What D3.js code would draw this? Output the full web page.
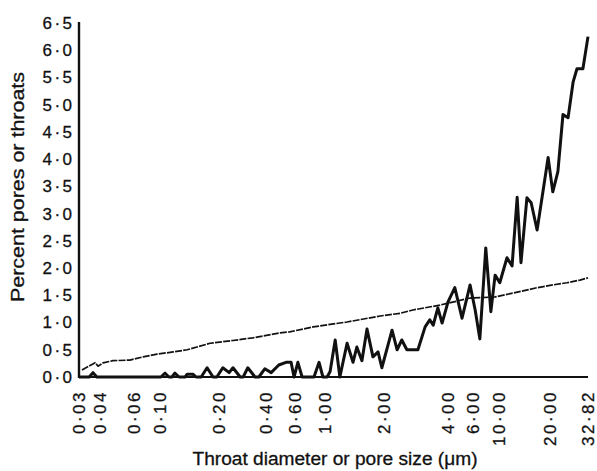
<!DOCTYPE html>
<html>
<head>
<meta charset="utf-8">
<script src="https://cdn.jsdelivr.net/npm/d3@7"></script>
<style>
body { margin: 0; background: #fff; }
text { font-family: "Liberation Sans", Arial, sans-serif; fill: #111; stroke: #111; stroke-width: 0.3; }
</style>
</head>
<body>
<svg></svg>
<script>
// size classes are numbered 0..120 along the x axis
var tickClass = [0, 5, 13, 19, 33, 44, 51, 58, 72, 87, 93, 99, 111, 120]
var tickLabels = ["0·03", "0·04", "0·06", "0·10", "0·20", "0·40", "0·60", "1·00", "2·00", "4·00", "6·00", "10·00", "20·00", "32·82"]
var yTicks = [0, 0.5, 1, 1.5, 2, 2.5, 3, 3.5, 4, 4.5, 5, 5.5, 6, 6.5]

// throats (heavy line)
var throatClass = [0, 2.4, 3.3, 4.2, 19.3, 20.3, 21.2, 21.9, 22.6, 23.6, 25, 25.5, 26.9, 27.6, 28.8, 30.2, 31.6, 32.5, 33.9, 35.4, 36.3, 38, 38.7, 39.8, 41.5, 42.4, 43.8, 45.3, 47.1, 48.8, 50, 50.7, 51.6, 52.6, 55.4, 56.6, 57.5, 58.5, 59.2, 60.4, 61.5, 63.2, 64.6, 65.5, 66.7, 67.9, 69.3, 70.5, 71.4, 73.8, 75, 76.1, 77.3, 79.9, 81.6, 82.7, 83.5, 84.6, 85.6, 87, 88.6, 90.3, 92.2, 93.4, 94.5, 95.9, 97.1, 98.1, 99.2, 100.9, 102.1, 103.3, 104.2, 105.6, 106.6, 108, 110.6, 111.7, 112.9, 114.1, 115.3, 116.5, 117.4, 118.8, 120]
var throatPct = [0, 0, 0.08, 0, 0, 0.07, 0, 0, 0.07, 0, 0, 0.05, 0.05, 0, 0, 0.17, 0, 0, 0.17, 0.08, 0.17, 0, 0, 0.17, 0, 0, 0.15, 0.08, 0.22, 0.27, 0.27, 0, 0.27, 0, 0, 0.27, 0, 0, 0.1, 0.68, 0, 0.62, 0.27, 0.55, 0.3, 0.88, 0.37, 0.46, 0.17, 0.86, 0.5, 0.68, 0.5, 0.5, 0.92, 1.05, 0.95, 1.27, 0.99, 1.38, 1.64, 1.08, 1.69, 1.23, 0.7, 2.37, 1.2, 1.87, 1.73, 2.19, 2.04, 3.3, 2.1, 3.29, 3.2, 2.7, 4.03, 3.4, 3.77, 4.82, 4.76, 5.42, 5.66, 5.66, 6.25]

// pores (light line)
var poreClass = [0.7, 3.8, 4.5, 5.7, 8, 12, 15.1, 18.4, 22.2, 25.5, 27.8, 30.9, 36.3, 41, 47.4, 49.7, 55.2, 63.2, 71, 75.7, 78.7, 85.1, 92.2, 98.1, 102.3, 108, 111.7, 115, 118.1, 120]
var porePct = [0.13, 0.26, 0.2, 0.26, 0.3, 0.31, 0.37, 0.42, 0.46, 0.5, 0.55, 0.62, 0.67, 0.72, 0.81, 0.83, 0.92, 1.01, 1.12, 1.17, 1.23, 1.32, 1.45, 1.47, 1.54, 1.64, 1.69, 1.73, 1.78, 1.82]

var screen = {width: 597, height: 471}
var margin = {left: 79, right: 9, top: 23, bottom: 94}

var svg = d3.select("svg")
    .attr("width", screen.width)
    .attr("height", screen.height)

var xScale = d3.scaleLinear()
    .domain([0, 120])
    .range([margin.left, screen.width - margin.right])

var yScale = d3.scaleLinear()
    .domain([0, 6.5])
    .range([screen.height - margin.bottom, margin.top])

var pores = poreClass.map(function(c, i) { return {x: c, y: porePct[i]} })
var throats = throatClass.map(function(c, i) { return {x: c, y: throatPct[i]} })

var line = d3.line()
    .x(function(p) { return xScale(p.x) })
    .y(function(p) { return yScale(p.y) })

svg.append("path")
    .datum(pores)
    .attr("d", line)
    .attr("fill", "none")
    .attr("stroke", "#111")
    .attr("stroke-width", 1.7)
    .attr("stroke-dasharray", "7 1.2")

svg.append("path")
    .datum(throats)
    .attr("d", line)
    .attr("fill", "none")
    .attr("stroke", "#111")
    .attr("stroke-width", 3)
    .attr("stroke-linejoin", "round")

// axes: plain lines, no tick marks
svg.append("line")
    .attr("x1", xScale(0)).attr("x2", xScale(0))
    .attr("y1", yScale(0) + 1).attr("y2", yScale(6.5) - 1)
    .attr("stroke", "#111").attr("stroke-width", 2.4)

svg.append("line")
    .attr("x1", xScale(0)).attr("x2", xScale(120))
    .attr("y1", yScale(0)).attr("y2", yScale(0))
    .attr("stroke", "#111").attr("stroke-width", 2.2)

svg.append("g")
    .selectAll("text")
    .data(yTicks)
    .enter()
    .append("text")
    .attr("x", xScale(0) - 4.5)
    .attr("y", function(d) { return yScale(d) })
    .attr("dy", "0.35em")
    .attr("text-anchor", "end")
    .attr("font-size", 17)
    .attr("letter-spacing", 2.5)
    .text(function(d) { return d3.format(".1f")(d).replace(".", "·") })

svg.append("g")
    .selectAll("text")
    .data(tickClass)
    .enter()
    .append("text")
    .attr("transform", function(d) { return "translate(" + xScale(d) + "," + (yScale(0) + 13) + ") rotate(-90)" })
    .attr("dy", "0.35em")
    .attr("text-anchor", "end")
    .attr("font-size", 17)
    .attr("letter-spacing", 2.5)
    .text(function(d, i) { return tickLabels[i] })

svg.append("text")
    .attr("transform", "translate(18,187) rotate(-90)")
    .attr("dy", "0.35em")
    .attr("text-anchor", "middle")
    .attr("font-size", 18)
    .attr("textLength", 230)
    .attr("lengthAdjust", "spacingAndGlyphs")
    .text("Percent pores or throats")

svg.append("text")
    .attr("x", 335)
    .attr("y", 465)
    .attr("text-anchor", "middle")
    .attr("font-size", 18)
    .attr("textLength", 285)
    .attr("lengthAdjust", "spacingAndGlyphs")
    .text("Throat diameter or pore size (μm)")
</script>
</body>
</html>
